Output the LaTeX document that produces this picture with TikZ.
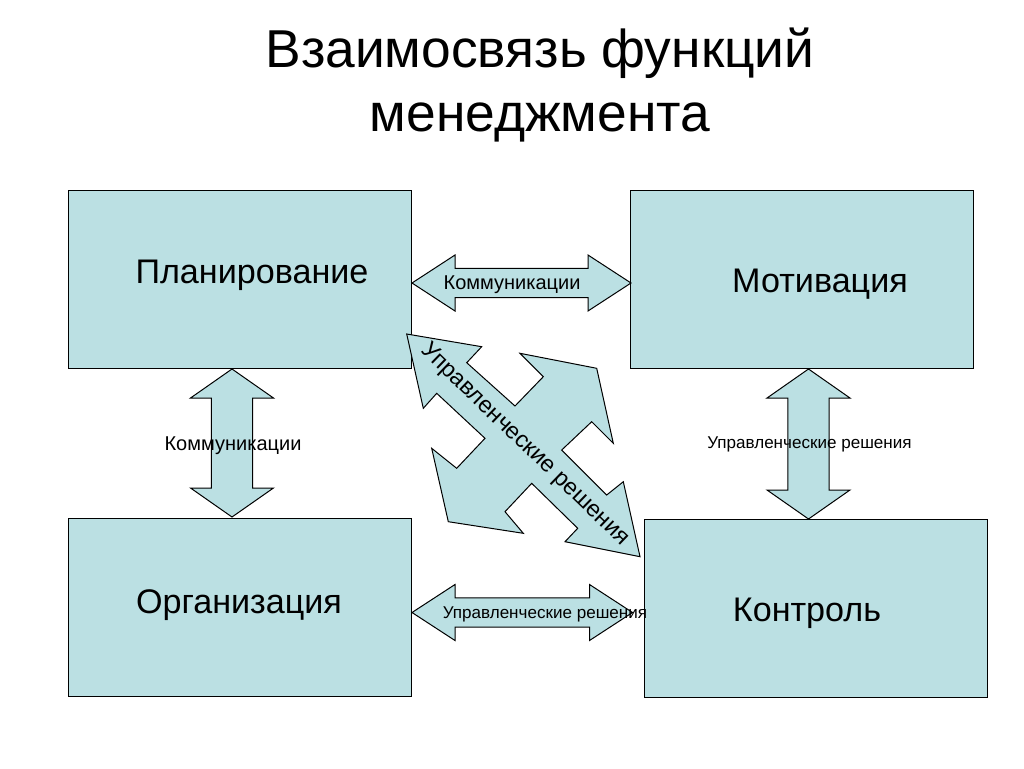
\documentclass[tikz,border=0pt]{standalone}
\usepackage{fontspec}
\setmainfont{Liberation Sans}
\usetikzlibrary{calc,positioning}
\definecolor{boxfill}{RGB}{187,224,227}

% block double arrow between two tips: #3 head length, #4 head half width, #5 shaft half width
\newcommand{\blockarrow}[5]{%
  \draw[block arrow] (#1)
    -- ($(#1)!#3!(#2)!#4!90:(#2)$)
    -- ($(#1)!#3!(#2)!#5!90:(#2)$)
    -- ($(#2)!#3!(#1)!#5!-90:(#1)$)
    -- ($(#2)!#3!(#1)!#4!-90:(#1)$)
    -- (#2)
    -- ($(#2)!#3!(#1)!#4!90:(#1)$)
    -- ($(#2)!#3!(#1)!#5!90:(#1)$)
    -- ($(#1)!#3!(#2)!#5!-90:(#2)$)
    -- ($(#1)!#3!(#2)!#4!-90:(#2)$)
    -- cycle;}

\begin{document}
\begin{tikzpicture}[
  x=0.75pt, y=-0.75pt,
  function/.style={rectangle, draw, fill=boxfill, line width=0.75pt, minimum width=257.25pt, minimum height=133.5pt, inner sep=0pt, outer sep=0pt},
  function text/.style={font=\fontsize{25.6}{30}\selectfont},
  block arrow/.style={draw, fill=boxfill, line width=0.75pt, line join=miter},
  arrow label/.style={font=\fontsize{15}{18}\selectfont, inner sep=0pt},
  small label/.style={font=\fontsize{12.8}{15}\selectfont, inner sep=0pt}
]
  \fill[white] (0,0) rectangle (1024,768);
  \useasboundingbox (0,0) rectangle (1024,768);

  \node[align=center, font=\fontsize{40}{48}\selectfont] (title) at (540,85) {Взаимосвязь функций\\менеджмента};

  \node[function] (plan)  at (239.5,279) {};
  \node[function] (motiv) at (801.5,279) {};
  \node[function] (org)   at (239.5,607) {};
  \node[function] (contr) at (816,608)   {};

  \node[function text] (plantext)  at (252,275) {Планирование};
  \node[function text] (motivtext) at (820,284) {Мотивация};
  \node[function text] (orgtext)   at (239,605) {Организация};
  \node[function text] (contrtext) at (807,613) {Контроль};

  % arrow tips next to the boxes
  \coordinate (pm1) at ($(plan.east)+(1,4)$);
  \coordinate (pm2) at ($(motiv.west)+(1,4)$);
  \coordinate (oc1) at ($(org.east)+(1,5.5)$);
  \coordinate (oc2) at ($(contr.west)+(-12,4.5)$);
  \coordinate (po1) at ($(plan.south)+(-7.5,1)$);
  \coordinate (po2) at ($(org.north)+(-7.5,-1)$);
  \coordinate (mc1) at ($(motiv.south)+(7,1)$);
  \coordinate (mc2) at ($(contr.north)+(-7.5,0)$);

  \blockarrow{pm1}{pm2}{32.25pt}{21pt}{10.9pt}
  \blockarrow{oc1}{oc2}{32.25pt}{21pt}{10.9pt}
  \blockarrow{po1}{po2}{21.75pt}{31.1pt}{15.4pt}
  \blockarrow{mc1}{mc2}{21.75pt}{31.1pt}{15.4pt}

  % crossed arrow in the middle
  \draw[block arrow] (406.7,334) -- (481.7,346.7) -- (466.7,362.7) -- (515,406)
    -- (543.3,376.7) -- (520,353.3) -- (596.7,368.3) -- (613.3,443.3)
    -- (591.7,421.7) -- (561.7,450) -- (606.7,495) -- (623.3,481.7)
    -- (640,556.7) -- (565,541.7) -- (577.7,528.3) -- (531.7,483.3)
    -- (505,511.7) -- (523.3,533.3) -- (448.3,521.7) -- (431.7,448.3)
    -- (456.7,468.3) -- (485,438.3) -- (436.7,393.3) -- (423.3,408.3) -- cycle;

  \node[arrow label] (pmtext) at (512,285) {Коммуникации};
  \node[small label] (octext) at (545,614) {Управленческие решения};
  \node[arrow label] (potext) at (233,446) {Коммуникации};
  \node[small label] (mctext) at (809.5,444) {Управленческие решения};
  \node[inner sep=0pt, rotate=-44, font=\fontsize{17.5}{21}\selectfont] (crosstext) at (525,445) {Управленческие решения};
\end{tikzpicture}
\end{document}
